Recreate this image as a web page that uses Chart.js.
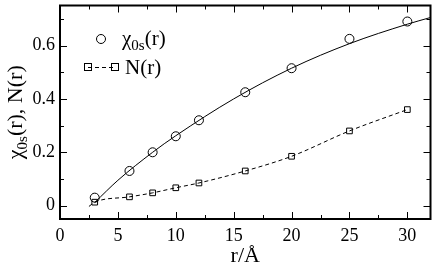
<!DOCTYPE html>
<html>
<head>
<meta charset="utf-8">
<script src="https://cdn.jsdelivr.net/npm/chart.js@4"></script>
<style>
  html, body { margin: 0; padding: 0; background: #fff; }
  #wrap { width: 436px; height: 267px; }
</style>
</head>
<body>
<div id="wrap"><canvas id="chartChi"></canvas></div>
<script>
// dữ liệu
const rValues = [3, 6, 8, 10, 12, 16, 20, 25, 30];
const chiValues = [0.03, 0.13, 0.2, 0.26, 0.32, 0.425, 0.515, 0.625, 0.69];
const nValues = [0.013, 0.033, 0.048, 0.067, 0.085, 0.13, 0.185, 0.28, 0.36];
// đường fit liền
const fitR = [3, 5, 8, 10, 15, 20, 25, 30, 32];
const fitChi = [0.012, 0.095, 0.2, 0.262, 0.4, 0.515, 0.607, 0.68, 0.705];
// đoạn nét đứt bắt đầu trước điểm đầu
const nStart = {x: 2.5, y: -0.003};
const xTicks = [0, 5, 10, 15, 20, 25, 30];
const yTicks = [0, 0.2, 0.4, 0.6];

const FONT = '"Liberation Serif", "Times New Roman", serif';

// vẽ vạch chia hướng vào trong, 4 cạnh
const tickPlugin = {
  id: 'innerTicks',
  afterDraw(chart) {
    const {ctx, chartArea: a, scales: {x, y}} = chart;
    ctx.save();
    ctx.strokeStyle = '#000';
    ctx.lineWidth = 1;
    const xs = [];
    xTicks.forEach(v => { xs.push([v, 7]); xs.push([v + 2.5, 4]); });
    xs.forEach(([v, len]) => {
      if (v <= x.min || v >= x.max) return;
      const px = Math.round(x.getPixelForValue(v)) + 0.5;
      ctx.beginPath();
      ctx.moveTo(px, a.bottom); ctx.lineTo(px, a.bottom - len);
      ctx.moveTo(px, a.top); ctx.lineTo(px, a.top + len);
      ctx.stroke();
    });
    const ys = [];
    yTicks.forEach(v => { ys.push([v, 7]); ys.push([v + 0.1, 4]); });
    ys.forEach(([v, len]) => {
      if (v <= y.min || v >= y.max) return;
      const py = Math.round(y.getPixelForValue(v)) + 0.5;
      ctx.beginPath();
      ctx.moveTo(a.left, py); ctx.lineTo(a.left + len, py);
      ctx.moveTo(a.right, py); ctx.lineTo(a.right - len, py);
      ctx.stroke();
    });
    ctx.lineWidth = 2;
    ctx.strokeRect(a.left, a.top, a.right - a.left, a.bottom - a.top);

    // tiêu đề trục
    ctx.fillStyle = '#000';
    ctx.textBaseline = 'alphabetic';
    ctx.font = '22px ' + FONT;
    ctx.textAlign = 'center';
    ctx.fillText('r/Å', (a.left + a.right) / 2, 262);

    // tiêu đề trục y có chỉ số dưới
    ctx.save();
    ctx.translate(22, (a.top + a.bottom) / 2);
    ctx.rotate(-Math.PI / 2);
    const parts = [['χ', 22, 0], ['0s', 15, 5], ['(r), N(r)', 22, 0]];
    let total = 0;
    parts.forEach(([t, s]) => { ctx.font = s + 'px ' + FONT; total += ctx.measureText(t).width; });
    let cx = -total / 2;
    ctx.textAlign = 'left';
    parts.forEach(([t, s, dy]) => {
      ctx.font = s + 'px ' + FONT;
      ctx.fillText(t, cx, dy);
      cx += ctx.measureText(t).width;
    });
    ctx.restore();

    // chú thích
    ctx.lineWidth = 1;
    ctx.beginPath();
    ctx.arc(101, 39, 4.5, 0, Math.PI * 2);
    ctx.stroke();
    ctx.textAlign = 'left';
    ctx.font = '21px ' + FONT;
    ctx.fillText('χ', 122, 45);
    let lx = 122 + ctx.measureText('χ').width;
    ctx.font = '15px ' + FONT;
    ctx.fillText('0s', lx, 50);
    lx += ctx.measureText('0s').width;
    ctx.font = '21px ' + FONT;
    ctx.fillText('(r)', lx, 45);

    ctx.strokeRect(84.5, 63.5, 7, 7);
    ctx.strokeRect(111.5, 63.5, 7, 7);
    ctx.setLineDash([4, 3]);
    ctx.beginPath();
    ctx.moveTo(88, 67.5); ctx.lineTo(115, 67.5);
    ctx.stroke();
    ctx.setLineDash([]);
    ctx.font = '21px ' + FONT;
    ctx.fillText('N(r)', 125, 74);
    ctx.restore();
  }
};

const canvas = document.getElementById('chartChi');
const ctx = canvas.getContext('2d');

new Chart(ctx, {
  type: 'line',
  data: {
    datasets: [
      {
        label: 'fit',
        data: fitR.map((r, i) => ({x: r, y: fitChi[i]})),
        borderColor: '#000',
        borderWidth: 1,
        pointRadius: 0,
        cubicInterpolationMode: 'monotone',
        fill: false
      },
      {
        label: 'χ0s(r)',
        data: rValues.map((r, i) => ({x: r, y: chiValues[i]})),
        showLine: false,
        pointStyle: 'circle',
        pointRadius: 4.5,
        pointBorderWidth: 1,
        pointBorderColor: '#000',
        pointBackgroundColor: 'rgba(0,0,0,0)'
      },
      {
        label: 'N(r)',
        data: [nStart].concat(rValues.map((r, i) => ({x: r, y: nValues[i]}))),
        borderColor: '#000',
        borderWidth: 1,
        borderDash: [4, 3],
        cubicInterpolationMode: 'monotone',
        pointStyle: 'rect',
        pointRadius: [0].concat(rValues.map(() => 4)),
        pointBorderWidth: 1,
        pointBorderColor: '#000',
        pointBackgroundColor: 'rgba(0,0,0,0)',
        fill: false
      }
    ]
  },
  plugins: [tickPlugin],
  options: {
    responsive: true,
    maintainAspectRatio: false,
    animation: false,
    layout: {padding: {top: 2, right: 3, left: 0, bottom: 0}},
    plugins: {legend: {display: false}, tooltip: {enabled: false}},
    scales: {
      x: {
        type: 'linear',
        min: 0,
        max: 32,
        afterBuildTicks: s => { s.ticks = xTicks.map(v => ({value: v})); },
        afterFit: s => { s.height = 48; s.paddingLeft = 0; s.paddingRight = 0; },
        grid: {display: false, drawTicks: false},
        border: {display: false},
        ticks: {color: '#000', padding: 6, font: {family: FONT, size: 18}, maxRotation: 0}
      },
      y: {
        type: 'linear',
        min: -0.05,
        max: 0.75,
        afterBuildTicks: s => { s.ticks = yTicks.map(v => ({value: v})); },
        afterFit: s => { s.width = 60; s.paddingTop = 0; s.paddingBottom = 0; },
        grid: {display: false, drawTicks: false},
        border: {display: false},
        ticks: {color: '#000', padding: 5, font: {family: FONT, size: 18},
          callback: v => v === 0 ? '0' : v.toFixed(1)}
      }
    }
  }
});
</script>
</body>
</html>
